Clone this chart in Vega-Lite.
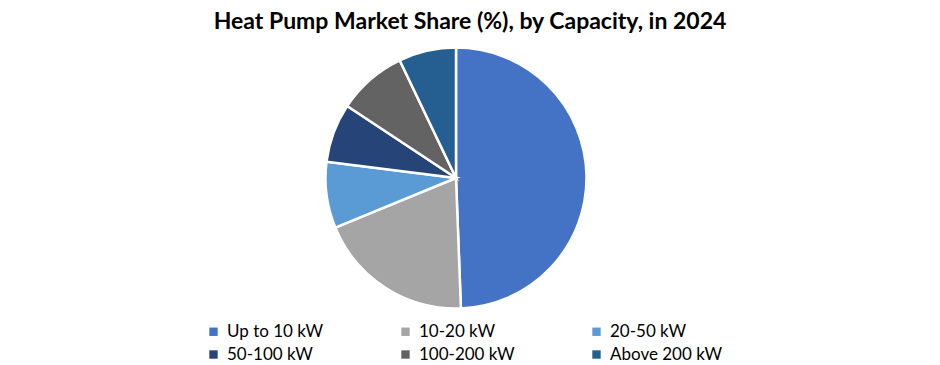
{
  "$schema": "https://vega.github.io/schema/vega-lite/v6.json",
  "width": 912,
  "height": 262,
  "autosize": "none",
  "padding": {"top": 47, "left": 0, "right": 28, "bottom": 56},
  "background": "white",
  "title": {
    "text": "Heat Pump Market Share (%), by Capacity, in 2024",
    "font": "Lato",
    "fontSize": 23,
    "fontWeight": "bold",
    "color": "#000000",
    "anchor": "middle",
    "dx": 14,
    "offset": 9
  },
  "data": {
    "values": [
      {"segment": "Up to 10 kW", "share": 49.4, "idx": 1},
      {"segment": "10-20 kW", "share": 19.4, "idx": 2},
      {"segment": "20-50 kW", "share": 8.2, "idx": 3},
      {"segment": "50-100 kW", "share": 7.3, "idx": 4},
      {"segment": "100-200 kW", "share": 8.6, "idx": 5},
      {"segment": "Above 200 kW", "share": 7.1, "idx": 6}
    ]
  },
  "mark": {"type": "arc", "outerRadius": 130.5, "stroke": "white", "strokeWidth": 2.5},
  "encoding": {
    "theta": {"field": "share", "type": "quantitative", "stack": true},
    "order": {"field": "idx", "type": "quantitative"},
    "color": {
      "field": "segment",
      "type": "nominal",
      "scale": {
        "domain": ["Up to 10 kW", "10-20 kW", "20-50 kW", "50-100 kW", "100-200 kW", "Above 200 kW"],
        "range": ["#4472C4", "#A5A5A5", "#5B9BD5", "#264478", "#636363", "#255E91"]
      },
      "legend": {
        "title": null,
        "orient": "none",
        "legendX": 205,
        "legendY": 276,
        "columns": 3,
        "direction": "horizontal",
        "symbolType": "square",
        "symbolSize": 70,
        "symbolStrokeWidth": 0,
        "labelFont": "Lato",
        "labelFontSize": 17,
        "labelColor": "#000000",
        "labelOffset": 5,
        "columnPadding": 73,
        "rowPadding": 5,
        "labelLimit": 300
      }
    }
  },
  "config": {"view": {"stroke": null}}
}
